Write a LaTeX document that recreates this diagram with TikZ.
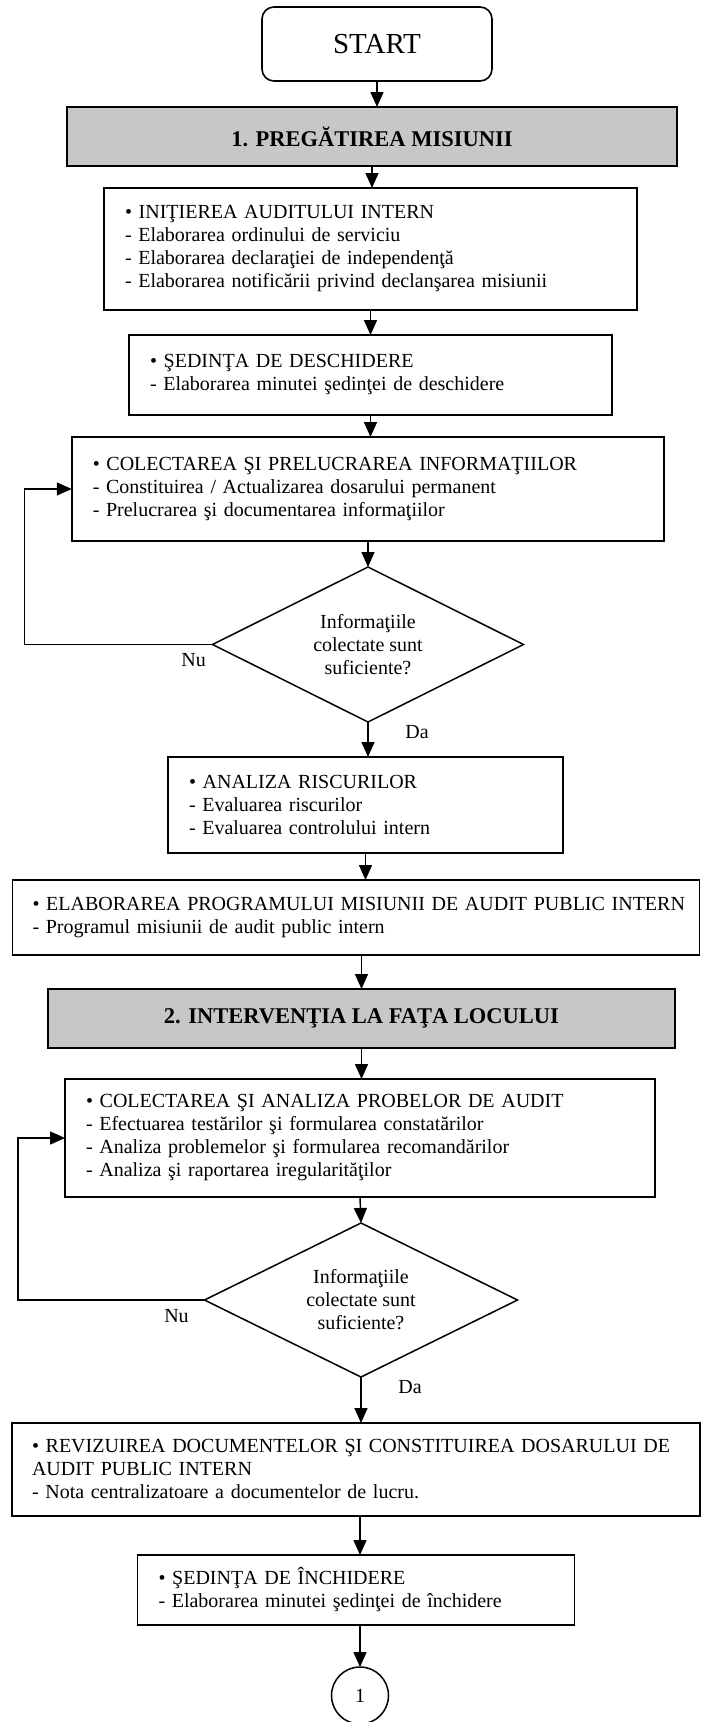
\documentclass[tikz,border=0pt]{standalone}
\usepackage{fontspec}
\setmainfont{Liberation Serif}
\usetikzlibrary{arrows.meta,positioning,shapes.geometric}

\begin{document}
\begin{tikzpicture}[
        x=1pt, y=-1pt,
        every node/.style={outer sep=0pt},
        terminal/.style={rectangle, rounded corners=12pt, draw=black, line width=1.6pt, minimum width=230pt, minimum height=74pt, font=\fontsize{29}{32}\selectfont},
        phase/.style={rectangle, draw=black, fill=black!22, line width=1.8pt, minimum height=59pt, font=\fontsize{22.5}{26}\selectfont\bfseries},
        stepbox/.style={rectangle, draw=black, line width=1.8pt, align=left, inner xsep=21pt, font=\fontsize{20}{23}\selectfont},
        decision/.style={diamond, aspect=2, draw=black, line width=1.5pt, align=center, inner sep=0pt, font=\fontsize{20}{23}\selectfont},
        connector/.style={circle, draw=black, line width=1.5pt, minimum size=57pt, font=\fontsize{20}{23}\selectfont},
        answer/.style={font=\fontsize{20}{23}\selectfont},
        arrow/.style={-{Triangle[length=15pt,width=13pt]}, line width=1.5pt}
    ]
        \useasboundingbox (0,0) rectangle (701,1722);

        \node[terminal] (start) at (377,44) {START};
        \node[phase, below=26pt of start, xshift=-5pt, minimum width=610pt] (phase1) {1. PREGĂTIREA MISIUNII};
        \node[stepbox, below=22pt of phase1, xshift=-1.5pt, text width=491pt, minimum height=122pt] (init) {%
            • INIŢIEREA AUDITULUI INTERN\\
            - Elaborarea ordinului de serviciu\\
            - Elaborarea declaraţiei de independenţă\\
            - Elaborarea notificării privind declanşarea misiunii};
        \node[stepbox, below=25pt of init, text width=441pt, minimum height=80pt] (deschid) {%
            • ŞEDINŢA DE DESCHIDERE\\
            - Elaborarea minutei şedinţei de deschidere};
        \node[stepbox, below=22pt of deschid, xshift=-2.5pt, text width=550.5pt, minimum height=104pt] (colect) {%
            • COLECTAREA ŞI PRELUCRAREA INFORMAŢIILOR\\
            - Constituirea / Actualizarea dosarului permanent\\
            - Prelucrarea şi documentarea informaţiilor};
        \node[decision, below=26pt of colect, minimum width=311pt, minimum height=155pt] (dec1) {Informaţiile\\colectate sunt\\suficiente?};
        \node[stepbox, below=35pt of dec1, xshift=-2.5pt, text width=353pt, minimum height=96pt] (risc) {%
            • ANALIZA RISCURILOR\\
            - Evaluarea riscurilor\\
            - Evaluarea controlului intern};
        \node[stepbox, below=27pt of risc, xshift=-9.5pt, inner xsep=20pt, text width=647pt, minimum height=75pt] (program) {%
            \mbox{• ELABORAREA PROGRAMULUI MISIUNII DE AUDIT PUBLIC INTERN}\\
            - Programul misiunii de audit public intern};
        \node[phase, below=34pt of program, xshift=5.5pt, minimum width=627pt] (phase2) {2. INTERVENŢIA LA FAŢA LOCULUI};
        \node[stepbox, below=31pt of phase2, xshift=-1.5pt, text width=548pt, minimum height=118pt] (probe) {%
            • COLECTAREA ŞI ANALIZA PROBELOR DE AUDIT\\
            - Efectuarea testărilor şi formularea constatărilor\\
            - Analiza problemelor şi formularea recomandărilor\\
            - Analiza şi raportarea iregularităţilor};
        \node[decision, below=26pt of probe, xshift=1pt, minimum width=313pt, minimum height=154pt] (dec2) {Informaţiile\\colectate sunt\\suficiente?};
        \node[stepbox, below=46pt of dec2, xshift=-5pt, inner xsep=20pt, text width=648pt, minimum height=93pt] (reviz) {%
            \mbox{• REVIZUIREA DOCUMENTELOR ŞI CONSTITUIREA DOSARULUI DE}\\
            AUDIT PUBLIC INTERN\\
            - Nota centralizatoare a documentelor de lucru.};
        \node[stepbox, below=39pt of reviz, text width=395pt, minimum height=70pt] (inchid) {%
            • ŞEDINŢA DE ÎNCHIDERE\\
            - Elaborarea minutei şedinţei de închidere};
        \node[connector, below=42pt of inchid, xshift=4pt] (conn) {1};

        \draw[arrow] (start.south) -- (start.south |- phase1.north);
        \draw[arrow] (phase1.south) -- (phase1.south |- init.north);
        \draw[arrow] (init.south) -- (init.south |- deschid.north);
        \draw[arrow] (deschid.south) -- (deschid.south |- colect.north);
        \draw[arrow] (colect.south) -- (dec1.north);
        \draw[arrow] (dec1.south) -- node[answer, pos=0.3, right=34pt] {Da} (dec1.south |- risc.north);
        \draw[arrow] (dec1.west) -- node[answer, pos=0.1, below=6pt] {Nu} ++(-188,0) |- (colect.west);
        \draw[arrow] (risc.south) -- (risc.south |- program.north);
        \draw[arrow] (phase2.north |- program.south) -- (phase2.north);
        \draw[arrow] (phase2.south) -- (phase2.south |- probe.north);
        \draw[arrow] (probe.south) -- (dec2.north);
        \draw[arrow] (dec2.south) -- node[answer, pos=0.22, right=34pt] {Da} (dec2.south |- reviz.north);
        \draw[arrow] (dec2.west) -- node[answer, pos=0.15, below=6pt] {Nu} ++(-186.5,0) |- (probe.west);
        \draw[arrow] (conn.north |- reviz.south) -- (conn.north |- inchid.north);
        \draw[arrow] (inchid.south -| conn.north) -- (conn.north);
    \end{tikzpicture}
\end{document}
